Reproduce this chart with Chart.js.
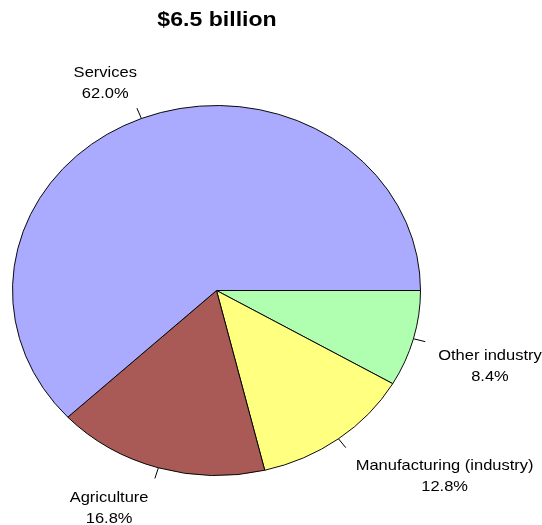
<!DOCTYPE html>
<html>
<head>
<meta charset="utf-8">
<script src="https://cdn.jsdelivr.net/npm/chart.js@4/dist/chart.umd.min.js"></script>
<style>
  html, body { margin: 0; padding: 0; background: #fff; }
  canvas { display: block; }
</style>
</head>
<body>
<canvas id="pie" width="542" height="525"></canvas>
<script>
// slices listed clockwise starting from 3 o'clock
const sectors = ["Other industry", "Manufacturing (industry)", "Agriculture", "Services"];
const shares = [8.4, 12.8, 16.8, 62.0];
const colors = ["#b0ffb0", "#ffff80", "#a95a56", "#aaaaff"];
const title = "$6.5 billion";

const squash = 185 / 204;   // pie is drawn as an ellipse
const stretch = 1.1;        // text is a bit wide

function wideText(ctx, str, x, y) {
  ctx.save();
  ctx.translate(x, y);
  ctx.scale(stretch, 1);
  ctx.fillText(str, 0, 0);
  ctx.restore();
}

const ellipse = {
  id: "ellipse",
  beforeDatasetsDraw(chart) {
    const arc = chart.getDatasetMeta(0).data[0];
    const ctx = chart.ctx;
    ctx.save();
    ctx.translate(arc.x, arc.y);
    ctx.scale(1, squash);
    ctx.translate(-arc.x, -arc.y);
  },
  afterDatasetsDraw(chart) {
    const ctx = chart.ctx;
    ctx.restore();

    // title
    ctx.save();
    ctx.fillStyle = "#000";
    ctx.font = "bold 21px 'Liberation Sans', Arial, sans-serif";
    ctx.textAlign = "center";
    ctx.textBaseline = "middle";
    wideText(ctx, title, 217, 20);
    ctx.restore();

    // leaders and labels
    ctx.save();
    ctx.font = "15px 'Liberation Sans', Arial, sans-serif";
    ctx.fillStyle = "#000";
    ctx.strokeStyle = "#000";
    ctx.lineWidth = 1;
    ctx.textAlign = "center";
    ctx.textBaseline = "middle";
    chart.getDatasetMeta(0).data.forEach((arc, i) => {
      const mid = (arc.startAngle + arc.endAngle) / 2;
      const c = Math.cos(mid), s = Math.sin(mid);
      const r = arc.outerRadius;
      const at = k => [arc.x + c * r * k, arc.y + s * r * k * squash];
      const [x0, y0] = at(1.0);
      const [x1, y1] = at(1.06);
      ctx.beginPath();
      ctx.moveTo(x0, y0);
      ctx.lineTo(x1, y1);
      ctx.stroke();

      const [ax, ay] = at(1.1);
      const lines = [sectors[i], shares[i].toFixed(1) + "%"];
      const w = Math.max(...lines.map(t => ctx.measureText(t).width)) * stretch;
      const gap = s > 0 ? 4 : -3;
      const cx = c < 0 ? ax - gap - w / 2 : ax + gap + 1 + w / 2;
      const top = s > 0 ? ay + 12 : ay - 28;
      lines.forEach((t, j) => wideText(ctx, t, cx, top + j * 21));
    });
    ctx.restore();
  }
};

new Chart(document.getElementById("pie"), {
  type: "pie",
  data: {
    labels: sectors,
    datasets: [{
      data: shares,
      backgroundColor: colors,
      borderColor: "#000",
      borderWidth: 1
    }]
  },
  options: {
    responsive: false,
    animation: false,
    rotation: 90,
    layout: { padding: { left: 12, right: 121, top: 86, bottom: 30 } },
    plugins: {
      legend: { display: false },
      tooltip: { enabled: false },
      title: { display: false }
    }
  },
  plugins: [ellipse]
});
</script>
</body>
</html>
